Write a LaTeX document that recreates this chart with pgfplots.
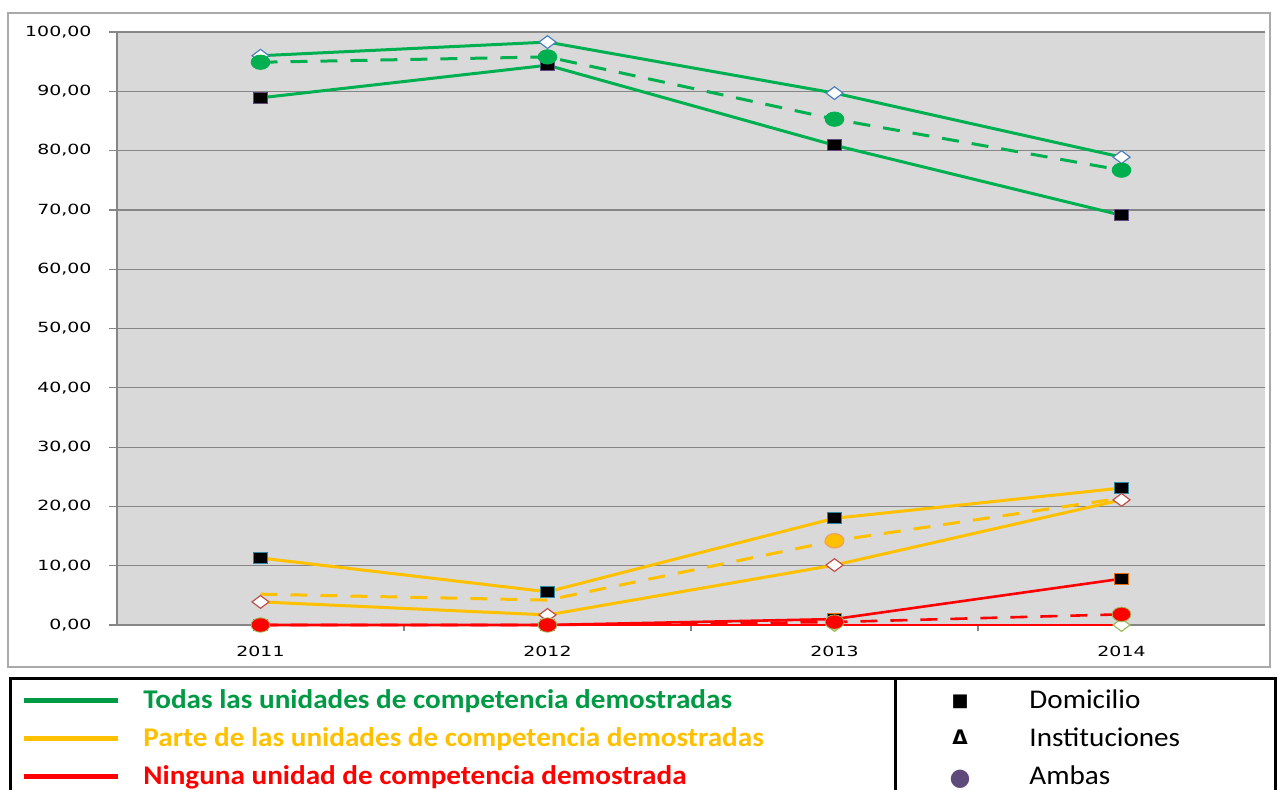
\documentclass[border=0pt]{standalone}
\usepackage{pgfplots}
\pgfplotsset{compat=1.18}
\usepackage{fontspec}
\setmainfont{Carlito}
\newfontfamily\tickfont{DejaVu Sans}
\newfontfamily\symfont{DejaVu Sans}

\definecolor{cgreen}{RGB}{0,176,80}
\definecolor{cyellow}{RGB}{255,192,0}
\definecolor{cred}{RGB}{255,0,0}
\definecolor{lgreen}{RGB}{0,153,68}
\definecolor{bggray}{RGB}{217,217,217}
\definecolor{gridgray}{RGB}{134,134,134}
\definecolor{framegray}{RGB}{170,170,170}
\definecolor{sqpurple}{RGB}{96,74,123}
\definecolor{sqteal}{RGB}{49,133,156}
\definecolor{sqorange}{RGB}{228,108,10}
\definecolor{dblue}{RGB}{79,129,189}
\definecolor{dred}{RGB}{192,80,77}
\definecolor{dgreen}{RGB}{155,187,89}
\definecolor{ambas}{RGB}{96,74,123}
\definecolor{lorange}{RGB}{240,160,100}

\begin{document}
\begin{tikzpicture}
\useasboundingbox (0,0) rectangle (639pt,394.5pt);
\draw[framegray, line width=0.75pt] (4pt,61pt) rectangle (635pt,388pt);

\begin{axis}[
  at={(58.5pt,82pt)}, anchor=south west,
  scale only axis, width=574pt, height=296.5pt,
  xmin=-0.5, xmax=3.5, ymin=0, ymax=100,
  axis background/.style={fill=bggray},
  axis x line*=bottom, axis y line*=left,
  axis line style={draw=gridgray, line width=0.75pt},
  ytick={0,10,...,100},
  ymajorgrids, grid style={gridgray, line width=0.6pt},
  xtick={0,1,2,3}, xticklabels={2011,2012,2013,2014},
  minor xtick={0.5,1.5,2.5},
  major x tick style={draw=none},
  tick align=outside,
  tick style={gridgray, line width=0.6pt},
  major tick length=4pt, minor tick length=3pt,
  /pgf/number format/assume math mode=true,
  yticklabel style={font=\tickfont\fontsize{7}{8}\selectfont, xscale=1.35, xshift=-3pt,
    /pgf/number format/.cd, fixed, fixed zerofill, precision=2, use comma},
  xticklabel style={font=\tickfont\fontsize{7}{8}\selectfont, xscale=1.35, yshift=-3pt},
  clip=false,
]
% Green: Todas
\addplot[cgreen, line width=1.5pt, mark=square*, mark size=2.75pt,
  mark options={fill=black, draw=sqpurple, line width=0.6pt, xscale=1.3, solid}]
  coordinates {(0,88.9)(1,94.4)(2,80.9)(3,69.1)};
\addplot[cgreen, line width=1.5pt, mark=diamond*, mark size=4.25pt,
  mark options={fill=white, draw=dblue, line width=0.6pt, rotate=90, solid}]
  coordinates {(0,96.0)(1,98.3)(2,89.7)(3,78.9)};
\addplot[cgreen, line width=1.5pt, dash pattern=on 8.5pt off 6.5pt, mark=*, mark size=3.6pt,
  mark options={fill=cgreen, draw=cgreen, line width=0.4pt, xscale=1.3, solid}]
  coordinates {(0,94.9)(1,95.8)(2,85.3)(3,76.7)};
% Yellow: Parte
\addplot[cyellow, line width=1.5pt, mark=square*, mark size=2.75pt,
  mark options={fill=black, draw=sqteal, line width=0.6pt, xscale=1.3, solid}]
  coordinates {(0,11.3)(1,5.6)(2,18.0)(3,23.1)};
\addplot[cyellow, line width=1.5pt, dash pattern=on 8.5pt off 6.5pt]
  coordinates {(0,5.2)(1,4.2)(2,14.2)(3,21.4)};
\addplot[only marks, mark=*, mark size=3.6pt,
  mark options={fill=cyellow, draw=lorange, line width=0.6pt, xscale=1.3}]
  coordinates {(2,14.2)};
\addplot[cyellow, line width=1.5pt, mark=diamond*, mark size=4.25pt,
  mark options={fill=white, draw=dred, line width=0.6pt, rotate=90, solid}]
  coordinates {(0,3.9)(1,1.7)(2,10.1)(3,21.1)};
% Red: Ninguna
\addplot[cred, line width=1.3pt, mark=diamond*, mark size=4.25pt,
  mark options={fill=white, draw=dgreen, line width=0.6pt, rotate=90, solid}]
  coordinates {(0,0)(1,0)(2,0)(3,0)};
\addplot[cred, line width=1.3pt, mark=square*, mark size=2.75pt,
  mark options={fill=black, draw=sqorange, line width=0.6pt, xscale=1.3, solid}]
  coordinates {(0,0)(1,0)(2,1.0)(3,7.8)};
\addplot[cred, line width=1.3pt, dash pattern=on 8.5pt off 6.5pt, mark=*, mark size=3.6pt,
  mark options={fill=cred, draw=dgreen, line width=0.4pt, xscale=1.3, solid}]
  coordinates {(0,0)(1,0)(2,0.5)(3,1.8)};
\end{axis}

% Legend box
\draw[black, line width=1.5pt] (5pt,-20pt) rectangle (637.5pt,55.5pt);
\draw[black, line width=1.5pt] (447.5pt,55.5pt) -- (447.5pt,-20pt);

\draw[lgreen, line width=2.5pt] (12pt,44.5pt) -- (59pt,44.5pt);
\draw[cyellow, line width=2.5pt] (12pt,25.5pt) -- (59pt,25.5pt);
\draw[cred, line width=2.5pt] (12pt,6.5pt) -- (59pt,6.5pt);

\begin{scope}[every node/.style={anchor=base west, inner sep=0pt, xscale=1.08, font=\bfseries\fontsize{13.5}{16}\selectfont}]
\node[text=lgreen] at (71.5pt,40.5pt) {Todas las unidades de competencia demostradas};
\node[text=cyellow] at (71.5pt,21.5pt) {Parte de las unidades de competencia demostradas};
\node[text=cred] at (71.5pt,2.5pt) {Ninguna unidad de competencia demostrada};
\end{scope}

\begin{scope}[every node/.style={anchor=base west, inner sep=0pt, xscale=1.08, font=\fontsize{13.5}{16}\selectfont}]
\node at (514.5pt,40.5pt) {Domicilio};
\node at (514.5pt,21.5pt) {Instituciones};
\node at (514.5pt,2.5pt) {Ambas};
\end{scope}

\node[anchor=base, inner sep=0pt, font=\symfont\fontsize{9}{10}\selectfont] at (480pt,41.5pt) {■};
\node[anchor=base, inner sep=0pt, font=\symfont\bfseries\fontsize{10}{11}\selectfont] at (480pt,22.5pt) {Δ};
\node[anchor=base, inner sep=0pt, text=ambas, font=\symfont\fontsize{12}{13}\selectfont] at (480pt,2pt) {●};
\end{tikzpicture}
\end{document}
